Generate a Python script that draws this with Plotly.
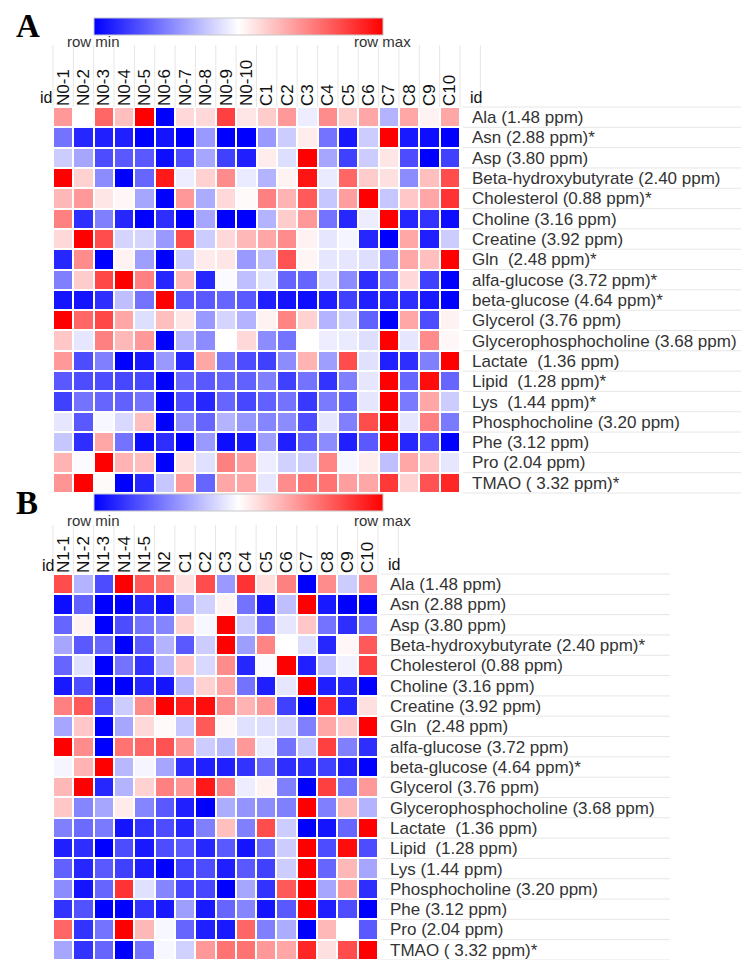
import plotly.graph_objects as go

W, H = 741, 960

cols_A = ["N0-1", "N0-2", "N0-3", "N0-4", "N0-5", "N0-6", "N0-7", "N0-8", "N0-9", "N0-10",
          "C1", "C2", "C3", "C4", "C5", "C6", "C7", "C8", "C9", "C10"]
cols_B = ["N1-1", "N1-2", "N1-3", "N1-4", "N1-5", "N2",
          "C1", "C2", "C3", "C4", "C5", "C6", "C7", "C8", "C9", "C10"]

rows_A = ["Ala (1.48 ppm)", "Asn (2.88 ppm)*", "Asp (3.80 ppm)", "Beta-hydroxybutyrate (2.40 ppm)",
          "Cholesterol (0.88 ppm)*", "Choline (3.16 ppm)", "Creatine (3.92 ppm)", "Gln  (2.48 ppm)*",
          "alfa-glucose (3.72 ppm)*", "beta-glucose (4.64 ppm)*", "Glycerol (3.76 ppm)",
          "Glycerophosphocholine (3.68 ppm)", "Lactate  (1.36 ppm)", "Lipid  (1.28 ppm)*",
          "Lys  (1.44 ppm)*", "Phosphocholine (3.20 ppm)", "Phe (3.12 ppm)", "Pro (2.04 ppm)",
          "TMAO ( 3.32 ppm)*"]
rows_B = ["Ala (1.48 ppm)", "Asn (2.88 ppm)", "Asp (3.80 ppm)", "Beta-hydroxybutyrate (2.40 ppm)*",
          "Cholesterol (0.88 ppm)", "Choline (3.16 ppm)", "Creatine (3.92 ppm)", "Gln  (2.48 ppm)",
          "alfa-glucose (3.72 ppm)", "beta-glucose (4.64 ppm)*", "Glycerol (3.76 ppm)",
          "Glycerophosphocholine (3.68 ppm)", "Lactate  (1.36 ppm)", "Lipid  (1.28 ppm)",
          "Lys (1.44 ppm)", "Phosphocholine (3.20 ppm)", "Phe (3.12 ppm)", "Pro (2.04 ppm)",
          "TMAO ( 3.32 ppm)*"]

# row-scaled values (-1 = row min, +1 = row max)
z_A = [
    [0.4, 0.0, 0.6, 0.25, 1.0, -1.0, 0.15, 0.15, 0.75, 0.1, 0.2, 0.4, -0.07, 0.45, 0.2, 0.35, -0.3, 0.35, 0.05, 0.35],
    [-0.55, -0.85, -0.88, -0.88, -1.0, -0.92, -1.0, -0.4, -1.0, -1.0, -0.4, -0.2, 0.07, -0.55, -0.9, -0.2, 1.0, -0.9, -0.95, -1.0],
    [-0.2, -0.35, -0.7, -0.65, -0.65, -0.95, -0.7, -0.35, -0.75, -0.88, 0.07, -0.13, 1.0, -0.35, -0.75, -0.2, 0.1, -0.7, -1.0, -0.75],
    [1.0, 0.18, -0.45, -1.0, -0.6, 0.9, -0.07, 0.18, 0.45, -0.08, -0.3, 0.05, 0.92, -0.08, 0.6, 0.2, 0.12, -0.45, 0.25, 0.7],
    [0.28, 0.4, 0.1, 0.03, -0.35, -1.0, 0.4, -0.33, 0.15, 0.02, 0.5, 0.3, 0.65, -0.22, 0.38, 1.0, -0.22, 0.22, 0.35, 0.8],
    [0.5, -0.82, -0.5, -0.85, -1.0, -0.82, -1.0, -0.35, -1.0, -1.0, -0.3, 0.2, 0.4, -0.55, -0.85, -0.07, 1.0, -0.85, -0.8, -0.95],
    [0.15, 1.0, 0.7, -0.17, -0.17, -0.4, 0.7, -0.2, 0.15, 0.28, 0.35, 0.45, 0.05, -0.1, -0.04, -0.85, -1.0, 0.35, -0.88, -0.2],
    [-0.85, 0.45, -1.0, 0.05, -0.38, -1.0, -0.2, 0.08, 0.1, -0.4, -0.25, 0.68, 0.04, -0.1, -0.1, -0.13, -0.45, 0.35, 0.25, 1.0],
    [-0.5, 0.2, 0.72, 1.0, 0.5, -0.85, 0.28, -0.85, -0.02, -0.25, -0.12, -0.6, -0.6, -0.15, -0.45, -0.82, -0.55, 0.15, -0.75, -1.0],
    [-0.92, -0.92, -0.82, -0.25, -0.55, 1.0, -0.65, -0.65, -0.6, -0.65, -0.88, -0.92, -0.95, -0.88, -0.75, -0.88, -0.85, -0.82, -0.9, -1.0],
    [1.0, 0.6, 0.72, 0.35, -0.13, 0.25, 0.1, -0.4, -0.17, -0.3, 0.05, 0.48, 0.18, -0.3, -0.2, -0.62, -1.0, 0.35, -0.7, 0.05],
    [0.22, -0.1, 0.5, 0.28, 0.4, -1.0, -0.3, -0.45, 0.0, 0.15, -0.45, -0.55, 0.0, -0.07, -0.08, -0.13, 1.0, -0.1, 0.45, 0.03],
    [0.4, -0.7, -0.5, -1.0, -0.9, -0.4, -0.85, 0.35, -0.55, -0.7, -0.75, -0.45, 0.3, -0.38, 0.7, -0.12, -0.88, -0.82, -0.5, 1.0],
    [-0.65, -0.7, -0.7, -0.72, -0.72, -1.0, -0.6, -0.65, -0.6, -0.62, -0.5, -0.75, -0.55, -0.8, -0.5, -0.1, 1.0, -0.6, 0.95, -0.6],
    [-0.75, -0.55, -0.6, -0.62, -0.55, -1.0, -0.7, -0.85, -0.6, -0.72, -0.62, -0.55, -0.78, -0.52, -0.6, -0.1, 1.0, -0.52, 0.35, -0.2],
    [-0.1, -0.65, -0.03, -0.15, 0.25, -1.0, -0.45, -0.6, -0.3, -0.41, -0.48, -0.45, -0.7, -0.1, -0.5, 0.7, 1.0, -0.1, 0.5, -0.52],
    [-0.22, -0.82, 0.35, -0.55, -0.95, -0.82, -1.0, -0.4, -0.95, -0.9, -0.38, -0.88, -0.62, -0.45, -0.88, -0.65, 1.0, -0.85, -0.7, -1.0],
    [0.3, -0.02, 1.0, 0.3, 0.25, -1.0, 0.12, -0.12, 0.5, 0.38, -0.07, -0.18, -0.2, 0.48, -0.03, 0.07, -0.25, 0.35, 0.22, -0.1],
    [0.42, 1.0, 0.02, -1.0, -0.85, -0.22, 0.4, -0.6, 0.35, 0.35, -0.1, 0.45, 0.55, 0.55, 0.38, 0.35, 0.78, 0.18, 0.68, 0.85],
]

z_B = [
    [0.7, -0.3, -0.7, 1.0, 0.65, 0.55, 0.12, 0.7, -0.4, 0.8, 0.13, 0.5, -1.0, 0.45, -0.2, 0.45],
    [-0.95, -0.62, -1.0, -1.0, -0.85, -0.95, -0.38, -0.18, 0.05, -0.55, -0.92, -0.25, 1.0, -0.9, -1.0, -1.0],
    [-0.6, 0.05, -1.0, -0.7, -0.55, -0.48, 0.18, -0.03, 1.0, -0.2, -0.55, -0.1, 0.22, -0.55, -0.82, -0.55],
    [-0.35, -0.65, -0.6, -1.0, -0.65, -0.3, -0.65, -0.2, 1.0, -0.38, 0.48, 0.0, -0.13, -0.85, 0.03, 0.65],
    [-0.6, -0.12, -1.0, -0.55, -0.8, -0.3, 0.22, -0.15, 0.45, -0.85, -0.02, 1.0, -0.88, -0.25, -0.05, 0.75],
    [-0.9, -0.7, -1.0, -1.0, -0.85, -0.92, -0.3, 0.18, 0.35, -0.55, -0.88, -0.1, 1.0, -0.88, -0.85, -1.0],
    [0.5, 0.65, -0.7, -0.2, 0.45, 1.0, 0.88, 0.95, 0.45, 0.3, 0.4, -0.75, -1.0, 0.8, -0.85, 0.12],
    [-0.35, 0.22, -1.0, -0.35, 0.15, 0.02, -0.22, 0.65, 0.03, -0.12, -0.13, -0.17, -0.5, 0.35, 0.22, 1.0],
    [1.0, 0.45, -1.0, 0.55, 0.6, 0.68, 0.42, -0.2, -0.28, 0.4, -0.08, -0.55, -0.22, 0.75, -0.5, -0.82],
    [-0.04, 0.3, 1.0, -0.28, -0.04, -0.35, -0.82, -0.88, -0.88, -0.8, -0.6, -0.82, -0.82, -0.75, -0.88, -1.0],
    [0.28, 1.0, -0.85, -0.3, 0.18, 0.5, 0.42, 0.9, 0.5, -0.07, 0.05, -0.5, -1.0, 0.75, -0.55, 0.4],
    [0.22, -0.48, -0.35, 0.08, -0.48, -0.65, -0.88, -1.0, -0.32, -0.42, -0.45, -0.5, 1.0, -0.5, 0.28, -0.3],
    [-0.5, -0.58, -0.52, -0.92, -0.8, -0.7, -0.85, -0.5, 0.25, -0.5, 0.7, -0.2, -1.0, -0.92, -0.6, 1.0],
    [-0.88, -0.82, -1.0, -0.7, -0.9, -0.7, -0.65, -0.85, -0.65, -0.92, -0.6, -0.2, 1.0, -0.7, 0.95, -0.7],
    [-0.62, -0.85, -0.65, -0.75, -0.88, -1.0, -0.75, -0.7, -0.88, -0.65, -0.75, -0.2, 1.0, -0.6, 0.28, -0.35],
    [-0.45, -0.92, -0.6, 0.8, -0.12, -0.48, -0.72, -0.72, -1.0, -0.35, -0.8, 0.65, 1.0, -0.35, 0.4, -0.82],
    [-0.8, -0.68, -1.0, -1.0, -0.8, -0.9, -0.38, -0.9, -0.6, -0.48, -0.92, -0.65, 1.0, -0.88, -0.7, -1.0],
    [0.6, -0.8, -0.55, 1.0, 0.28, -0.03, -0.6, -0.88, -0.9, 0.6, -0.5, -0.32, -1.0, 0.28, 0.0, -0.65],
    [-0.35, -0.8, -0.6, -1.0, -0.55, -0.03, -0.18, 0.4, 0.55, 0.55, 0.4, 0.35, 0.85, 0.12, 0.7, 1.0],
]

bwr = [[0.0, "#0000ff"], [0.5, "#ffffff"], [1.0, "#ff0000"]]
FONT = "Liberation Sans, Arial, Helvetica, sans-serif"


def fx(p):
    return p / W


def fy(p):
    return max(0.0, 1 - p / H)


# panel geometry (pixels)
A_x0, A_x1, A_y0, A_y1 = 53, 460, 107, 493
B_x0, B_x1, B_y0, B_y1 = 53, 378, 574, 960


def cbar(ytop):
    return dict(orientation="h", x=fx(94), xanchor="left", y=fy(ytop), yanchor="top",
                len=289, lenmode="pixels", thickness=17, thicknessmode="pixels",
                tickvals=[], showticklabels=False, outlinewidth=1, outlinecolor="#c8c8c8",
                xpad=0, ypad=0)


fig = go.Figure()
fig.add_trace(go.Heatmap(z=z_A, x=cols_A, y=rows_A, colorscale=bwr, zmin=-1, zmax=1,
                         xgap=2, ygap=2, xaxis="x", yaxis="y", colorbar=cbar(18)))
fig.add_trace(go.Heatmap(z=z_B, x=cols_B, y=rows_B, colorscale=bwr, zmin=-1, zmax=1,
                         xgap=2, ygap=2, xaxis="x2", yaxis="y2", colorbar=cbar(494)))

xcommon = dict(side="top", tickangle=-90, showgrid=False, zeroline=False, showline=False,
               ticks="", tickfont=dict(size=17, color="#111111", family=FONT), fixedrange=True)
ycommon = dict(side="right", autorange="reversed", showgrid=False, zeroline=False, showline=False,
               ticks="", tickfont=dict(size=17, color="#333333", family=FONT),
               ticklabelstandoff=11, fixedrange=True)

fig.update_layout(
    width=W, height=H, margin=dict(l=0, r=0, t=0, b=0, autoexpand=False),
    paper_bgcolor="white", plot_bgcolor="white", showlegend=False,
    font=dict(family=FONT, size=14, color="#333333"),
    xaxis=dict(domain=[fx(A_x0), fx(A_x1)], anchor="y", **xcommon),
    yaxis=dict(domain=[fy(A_y1), fy(A_y0)], anchor="x", **ycommon),
    xaxis2=dict(domain=[fx(B_x0), fx(B_x1)], anchor="y2", **xcommon),
    yaxis2=dict(domain=[fy(B_y1), fy(B_y0)], anchor="x2", **ycommon),
)

# faint separator lines in label areas
shapes = []
line = dict(color="#e6e6e6", width=1)
nA, nB = len(rows_A), len(rows_B)
for k in range(nA + 1):
    yy = A_y0 + k * (A_y1 - A_y0) / nA
    shapes.append(dict(type="line", xref="paper", yref="paper", x0=fx(A_x1 + 3), x1=fx(741),
                       y0=fy(yy), y1=fy(yy), line=line, layer="below"))
for k in range(nB + 1):
    yy = B_y0 + k * (B_y1 - B_y0) / nB
    shapes.append(dict(type="line", xref="paper", yref="paper", x0=fx(B_x1 + 3), x1=fx(670),
                       y0=fy(yy), y1=fy(yy), line=line, layer="below"))
for k in range(len(cols_A) + 2):
    xx = A_x0 + k * (A_x1 - A_x0) / len(cols_A)
    shapes.append(dict(type="line", xref="paper", yref="paper", x0=fx(xx), x1=fx(xx),
                       y0=fy(45), y1=fy(A_y0), line=line, layer="below"))
for k in range(len(cols_B) + 2):
    xx = B_x0 + k * (B_x1 - B_x0) / len(cols_B)
    shapes.append(dict(type="line", xref="paper", yref="paper", x0=fx(xx), x1=fx(xx),
                       y0=fy(525), y1=fy(B_y0), line=line, layer="below"))
fig.update_layout(shapes=shapes)

ann = []


def txt(s, x, y, size=15, color="#333333", family=FONT, xanchor="left"):
    ann.append(dict(text=s, x=fx(x), y=fy(y), xref="paper", yref="paper", showarrow=False,
                    xanchor=xanchor, yanchor="middle", font=dict(size=size, color=color, family=family)))


txt("<b>A</b>", 14, 26, size=33, color="black", family="Liberation Serif, Times New Roman, serif")
txt("<b>B</b>", 14, 503, size=33, color="black", family="Liberation Serif, Times New Roman, serif")
txt("row min", 65, 42)
txt("row max", 352, 42)
txt("row min", 65, 520)
txt("row max", 352, 520)
txt("id", 38, 97, size=16, color="#111111")
txt("id", 468, 97, size=16, color="#111111")
txt("id", 40, 565, size=16, color="#111111")
txt("id", 386, 564, size=16, color="#111111")
fig.update_layout(annotations=ann)

fig.write_html("out.html", post_script="document.body.style.margin='0px';",
               config={"displayModeBar": False})
